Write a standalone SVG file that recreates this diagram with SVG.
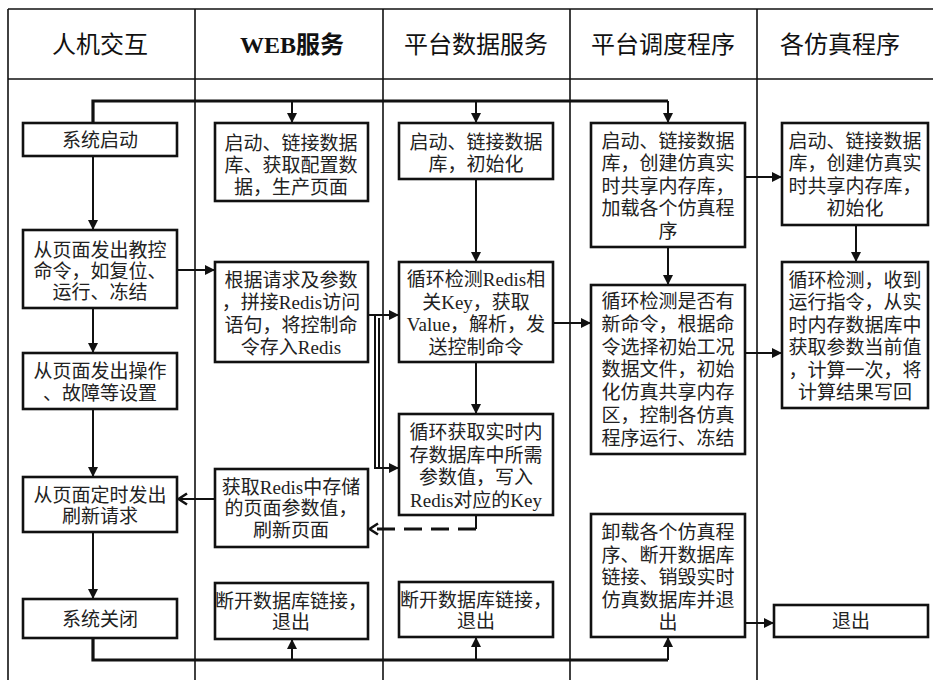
<svg xmlns="http://www.w3.org/2000/svg" width="933" height="680" viewBox="0 0 933 680">
<defs>
<style>
.grid{stroke:#111;stroke-width:1.6;fill:none}
.box{fill:#fff;stroke:#111;stroke-width:2.6}
.t{font-family:"Liberation Serif","Noto Sans CJK SC",serif;font-size:19px;fill:#222;text-anchor:middle;dominant-baseline:central}
.h{font-family:"Liberation Serif","Noto Sans CJK SC",sans-serif;font-size:24px;fill:#111;text-anchor:middle;dominant-baseline:central}
.c{stroke:#111;stroke-width:2;fill:none}
.bus{stroke:#111;stroke-width:3.2;fill:none}
.dash{stroke:#111;stroke-width:3;fill:none;stroke-dasharray:18 9}
</style>
<marker id="arr" markerUnits="userSpaceOnUse" markerWidth="10" markerHeight="10" viewBox="0 0 10 10" refX="10" refY="5" orient="auto">
<path d="M0,0 L10,5 L0,10 z" fill="#111"/>
</marker>
<marker id="open" markerUnits="userSpaceOnUse" markerWidth="12" markerHeight="14" viewBox="0 0 12 14" refX="11" refY="7" orient="auto">
<path d="M2,1.5 L10.5,7 L2,12.5" fill="none" stroke="#111" stroke-width="2.6"/>
</marker>
</defs>
<rect width="933" height="680" fill="#fff"/>
<g id="table">
<line class="grid" x1="8" y1="9" x2="933" y2="9"/>
<line class="grid" x1="8" y1="79" x2="933" y2="79"/>
<line class="grid" x1="8" y1="9" x2="8" y2="680"/>
<line class="grid" x1="195" y1="9" x2="195" y2="680"/>
<line class="grid" x1="383" y1="9" x2="383" y2="680"/>
<line class="grid" x1="570" y1="9" x2="570" y2="680"/>
<line class="grid" x1="757" y1="9" x2="757" y2="680"/>
<text class="h" x="100" y="45">人机交互</text>
<text class="h" x="292" y="45"><tspan font-weight="bold">WEB服务</tspan></text>
<text class="h" x="476" y="45">平台数据服务</text>
<text class="h" x="663" y="45">平台调度程序</text>
<text class="h" x="840" y="45">各仿真程序</text>
</g>
<g id="connectors">
<path class="bus" d="M93,123 V101 H668"/>
<path class="c" d="M292,101 V123" marker-end="url(#arr)"/>
<path class="c" d="M476,101 V123" marker-end="url(#arr)"/>
<path class="c" d="M668,101 V123" marker-end="url(#arr)"/>
<path class="c" d="M93,156 V230" marker-end="url(#arr)"/>
<path class="c" d="M93,308 V353" marker-end="url(#arr)"/>
<path class="c" d="M93,409 V477" marker-end="url(#arr)"/>
<path class="c" d="M93,532 V599" marker-end="url(#arr)"/>
<path class="c" d="M177,270 H215" marker-end="url(#arr)"/>
<path class="c" d="M215,499 H178" marker-end="url(#open)"/>
<path class="c" d="M368,315 H399" marker-end="url(#arr)"/>
<path class="c" d="M375,315 V468 H399" marker-end="url(#arr)"/>
<path class="c" d="M379,318 V468"/>
<path class="c" d="M476,179 V262" marker-end="url(#arr)"/>
<path class="c" d="M476,362 V414" marker-end="url(#arr)"/>
<path class="c" d="M476,515 V529"/>
<path class="dash" d="M476,529 H369" marker-end="url(#open)"/>
<path class="c" d="M553,323 H591" marker-end="url(#arr)"/>
<path class="c" d="M668,247 V285" marker-end="url(#arr)"/>
<path class="c" d="M745,177 H782" marker-end="url(#arr)"/>
<path class="c" d="M745,353 H782" marker-end="url(#arr)"/>
<path class="c" d="M856,225 V262" marker-end="url(#arr)"/>
<path class="c" d="M745,623 H774" marker-end="url(#arr)"/>
<path class="bus" d="M93,638 V660 H668"/>
<path class="c" d="M292,660 V639" marker-end="url(#arr)"/>
<path class="c" d="M476,660 V637" marker-end="url(#arr)"/>
<path class="c" d="M668,660 V637" marker-end="url(#arr)"/>
</g>
<g id="n_start">
<rect class="box" x="23" y="123" width="154" height="33"/>
<text class="t" x="100" y="140">系统启动</text>
</g>
<g id="n_cmd">
<rect class="box" x="23" y="230" width="154" height="78"/>
<text class="t" x="100" y="250">从页面发出教控</text>
<text class="t" x="100" y="271">命令，如复位、</text>
<text class="t" x="100" y="292">运行、冻结</text>
</g>
<g id="n_set">
<rect class="box" x="23" y="353" width="154" height="56"/>
<text class="t" x="100" y="371">从页面发出操作</text>
<text class="t" x="100" y="393">、故障等设置</text>
</g>
<g id="n_refresh">
<rect class="box" x="23" y="477" width="154" height="55"/>
<text class="t" x="100" y="495">从页面定时发出</text>
<text class="t" x="100" y="516">刷新请求</text>
</g>
<g id="n_close">
<rect class="box" x="23" y="599" width="154" height="39"/>
<text class="t" x="100" y="619">系统关闭</text>
</g>
<g id="w_start">
<rect class="box" x="215" y="123" width="153" height="78"/>
<text class="t" x="291" y="143">启动、链接数据</text>
<text class="t" x="291" y="165">库、获取配置数</text>
<text class="t" x="291" y="187">据，生产页面</text>
</g>
<g id="w_req">
<rect class="box" x="215" y="262" width="153" height="100"/>
<text class="t" x="291" y="280">根据请求及参数</text>
<text class="t" x="291" y="302">，拼接Redis访问</text>
<text class="t" x="291" y="325">语句，将控制命</text>
<text class="t" x="291" y="347">令存入Redis</text>
</g>
<g id="w_get">
<rect class="box" x="215" y="469" width="153" height="78"/>
<text class="t" x="291" y="487">获取Redis中存储</text>
<text class="t" x="291" y="508">的页面参数值，</text>
<text class="t" x="291" y="530">刷新页面</text>
</g>
<g id="w_exit">
<rect class="box" x="215" y="583" width="153" height="56"/>
<text class="t" x="291" y="601">断开数据库链接，</text>
<text class="t" x="291" y="622">退出</text>
</g>
<g id="d_start">
<rect class="box" x="399" y="123" width="154" height="56"/>
<text class="t" x="476" y="142">启动、链接数据</text>
<text class="t" x="476" y="164">库，初始化</text>
</g>
<g id="d_loop">
<rect class="box" x="399" y="262" width="154" height="100"/>
<text class="t" x="476" y="279">循环检测Redis相</text>
<text class="t" x="476" y="302">关Key，获取</text>
<text class="t" x="476" y="324">Value，解析，发</text>
<text class="t" x="476" y="347">送控制命令</text>
</g>
<g id="d_write">
<rect class="box" x="399" y="414" width="154" height="101"/>
<text class="t" x="476" y="432">循环获取实时内</text>
<text class="t" x="476" y="455">存数据库中所需</text>
<text class="t" x="476" y="477">参数值，写入</text>
<text class="t" x="476" y="500">Redis对应的Key</text>
</g>
<g id="d_exit">
<rect class="box" x="399" y="582" width="154" height="55"/>
<text class="t" x="476" y="600">断开数据库链接，</text>
<text class="t" x="476" y="621">退出</text>
</g>
<g id="s_start">
<rect class="box" x="591" y="123" width="154" height="124"/>
<text class="t" x="668" y="141">启动、链接数据</text>
<text class="t" x="668" y="163">库，创建仿真实</text>
<text class="t" x="668" y="186">时共享内存库，</text>
<text class="t" x="668" y="208">加载各个仿真程</text>
<text class="t" x="668" y="231">序</text>
</g>
<g id="s_loop">
<rect class="box" x="591" y="285" width="154" height="169"/>
<text class="t" x="668" y="301">循环检测是否有</text>
<text class="t" x="668" y="324">新命令，根据命</text>
<text class="t" x="668" y="347">令选择初始工况</text>
<text class="t" x="668" y="369">数据文件，初始</text>
<text class="t" x="668" y="392">化仿真共享内存</text>
<text class="t" x="668" y="415">区，控制各仿真</text>
<text class="t" x="668" y="438">程序运行、冻结</text>
</g>
<g id="s_exit">
<rect class="box" x="591" y="514" width="154" height="123"/>
<text class="t" x="668" y="532">卸载各个仿真程</text>
<text class="t" x="668" y="555">序、断开数据库</text>
<text class="t" x="668" y="577">链接、销毁实时</text>
<text class="t" x="668" y="600">仿真数据库并退</text>
<text class="t" x="668" y="622">出</text>
</g>
<g id="p_start">
<rect class="box" x="782" y="123" width="146" height="102"/>
<text class="t" x="855" y="141">启动、链接数据</text>
<text class="t" x="855" y="163">库，创建仿真实</text>
<text class="t" x="855" y="186">时共享内存库，</text>
<text class="t" x="855" y="208">初始化</text>
</g>
<g id="p_loop">
<rect class="box" x="782" y="262" width="146" height="146"/>
<text class="t" x="855" y="280">循环检测，收到</text>
<text class="t" x="855" y="302">运行指令，从实</text>
<text class="t" x="855" y="325">时内存数据库中</text>
<text class="t" x="855" y="347">获取参数当前值</text>
<text class="t" x="855" y="370">，计算一次，将</text>
<text class="t" x="855" y="392">计算结果写回</text>
</g>
<g id="p_exit">
<rect class="box" x="774" y="605" width="154" height="32"/>
<text class="t" x="851" y="621">退出</text>
</g>
</svg>
